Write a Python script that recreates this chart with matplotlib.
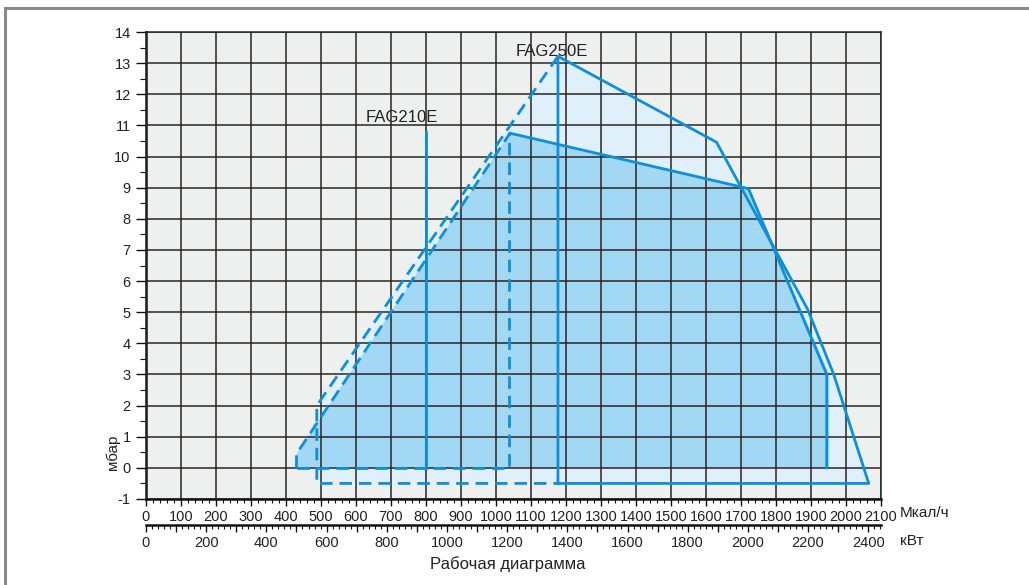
import matplotlib
matplotlib.use("Agg")
import matplotlib.pyplot as plt
from matplotlib.ticker import MultipleLocator, FuncFormatter
from matplotlib.lines import Line2D

plt.rcParams['font.family'] = ['Liberation Sans', 'DejaVu Sans']
plt.rcParams['axes.unicode_minus'] = False

# capacity in Mcal/h, pressure in mbar
# FAG210E working range (dark fill)
fag210_x = [430, 430, 1040, 1710, 1725, 1952, 1952]
fag210_y = [0, 0.45, 10.75, 9.0, 8.95, 3.0, 0]
# FAG250E working range (light fill)
fag250_x = [488, 488, 1177, 1630, 1890, 1965, 2065]
fag250_y = [-0.5, 2.0, 13.22, 10.46, 5.1, 3.0, -0.5]

# outline lines
fag210_top_x = [1040, 1710, 1722, 1945, 1945]
fag210_top_y = [10.75, 9.0, 8.95, 3.0, 0]
fag210_left_x = [430, 430, 1040]
fag210_left_y = [0, 0.45, 10.75]
fag210_base_x = [430, 1037, 1037]
fag210_base_y = [0, 0, 10.75]
fag210_mark_x = [800, 800]
fag210_mark_y = [0, 10.8]

fag250_out_x = [1177, 1177, 1630, 1890, 1965, 2065, 1177]
fag250_out_y = [-0.5, 13.22, 10.46, 5.1, 3.0, -0.5, -0.5]
fag250_left_x = [1177, 488, 488, 1177]
fag250_left_y = [13.22, 2.0, -0.5, -0.5]

labels = ['FAG210E', 'FAG250E']
label_x = [731, 1160]
label_y = [11.25, 13.37]

KW_PER_MCAL = 1.163

blue = '#0e8fd8'
dark_fill = '#a2d8f4'
light_fill = '#dff0fa'
grid_c = '#2a2522'
txt_c = '#222222'

fig = plt.figure(figsize=(10.29, 5.85), dpi=100)
ax = fig.add_axes([146 / 1029, 1 - 499 / 585, 735 / 1029, 467 / 585])
ax.set_facecolor('#eeefef')

ax.fill(fag250_x, fag250_y, color=light_fill, lw=0, zorder=1)
ax.fill(fag210_x, fag210_y, color=dark_fill, lw=0, zorder=1.2)

lw = 2.0
dash = (0, (4.5, 2.5))
ax.plot(fag210_top_x, fag210_top_y, color=blue, lw=lw, zorder=3)
ax.plot(fag210_mark_x, fag210_mark_y, color=blue, lw=lw, zorder=3)
ax.plot(fag210_left_x, fag210_left_y, color=blue, lw=lw, ls=dash, zorder=3)
ax.plot(fag210_base_x, fag210_base_y, color=blue, lw=lw, ls=dash, zorder=3)
ax.plot(fag250_out_x, fag250_out_y, color=blue, lw=lw, zorder=3)
ax.plot(fag250_left_x, fag250_left_y, color=blue, lw=lw, ls=dash, zorder=3)

for t, x, y in zip(labels, label_x, label_y):
    ax.text(x, y, t, ha='center', va='center', fontsize=12, color=txt_c, zorder=4)

ax.set_xlim(0, 2100)
ax.set_ylim(-1, 14)
ax.xaxis.set_major_locator(MultipleLocator(100))
ax.xaxis.set_minor_locator(MultipleLocator(20))
ax.yaxis.set_major_locator(MultipleLocator(1))
ax.yaxis.set_minor_locator(MultipleLocator(0.5))
ax.grid(True, which='major', color=grid_c, lw=1.1)
ax.set_axisbelow(False)
for ln in ax.get_xgridlines() + ax.get_ygridlines():
    ln.set_zorder(2)

ax.tick_params(which='major', length=5, width=1, color='#111111',
               labelsize=10.5, labelcolor=txt_c, pad=3)
ax.tick_params(which='minor', length=3, width=0.8, color='#111111')
ax.tick_params(axis='y', which='major', length=7, pad=4)
ax.tick_params(axis='y', which='minor', length=4)
for s in ('left', 'bottom'):
    ax.spines[s].set_linewidth(1.8)
    ax.spines[s].set_color('#111111')
for s in ('top', 'right'):
    ax.spines[s].set_linewidth(1.1)
    ax.spines[s].set_color(grid_c)

sec = ax.secondary_xaxis(-26 / 467, functions=(lambda x: x * KW_PER_MCAL,
                                                lambda x: x / KW_PER_MCAL))
sec.xaxis.set_major_locator(MultipleLocator(100))
sec.xaxis.set_minor_locator(MultipleLocator(20))
sec.xaxis.set_major_formatter(FuncFormatter(
    lambda v, p: '{:.0f}'.format(v) if round(v) % 200 == 0 else ''))
sec.tick_params(which='major', length=5, width=1, color='#111111',
                labelsize=10.5, labelcolor=txt_c, pad=3)
sec.tick_params(which='minor', length=3, width=0.8, color='#111111')
sec.spines['bottom'].set_linewidth(1.8)
sec.spines['bottom'].set_color('#111111')

fig.text(900 / 1029, 1 - 513 / 585, 'Мкал/ч', ha='left', va='center',
         fontsize=11, color=txt_c)
fig.text(900 / 1029, 1 - 541 / 585, 'кВт', ha='left', va='center',
         fontsize=11, color=txt_c)
fig.text(508 / 1029, 1 - 564 / 585, 'Рабочая диаграмма', ha='center',
         va='center', fontsize=12, color=txt_c)
fig.text(113 / 1029, 1 - 452 / 585, 'мбар', ha='center', va='center',
         rotation=90, fontsize=11, color=txt_c)

# page frame
fig.add_artist(Line2D([5 / 1029, 1], [1 - 8 / 585, 1 - 8 / 585],
                      transform=fig.transFigure, color='#8a8a8a', lw=2.2))
fig.add_artist(Line2D([5 / 1029, 5 / 1029], [0, 1 - 8 / 585],
                      transform=fig.transFigure, color='#8a8a8a', lw=2.2))

fig.savefig('out.png', dpi=100)
